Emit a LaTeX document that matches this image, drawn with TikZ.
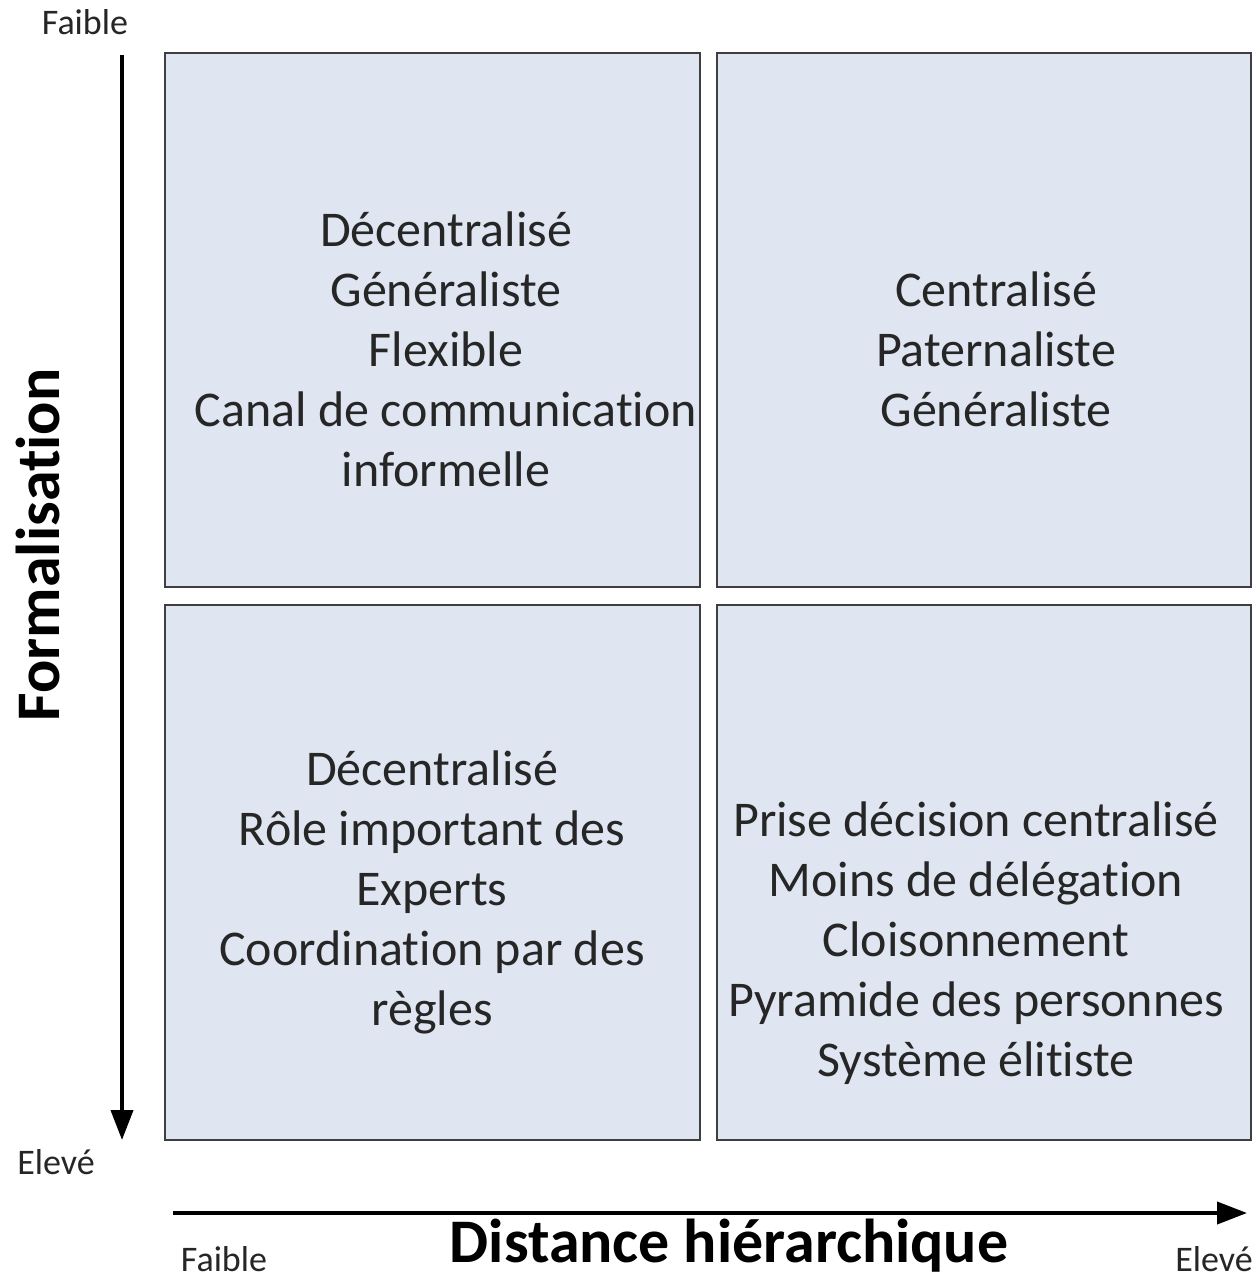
\documentclass[tikz,border=0pt]{standalone}
\usepackage{fontspec}
\setmainfont{Carlito}[Ligatures={NoCommon}]
\usetikzlibrary{arrows.meta}
\definecolor{boxfill}{HTML}{DFE6F1}
\definecolor{boxline}{HTML}{3F3F3F}
\tikzset{
  quad/.style={draw=boxline, line width=2pt, fill=boxfill},
  quadtext/.style={align=center, font=\fontsize{50}{60}\selectfont, text=black!85, inner sep=0pt},
  small/.style={font=\fontsize{36}{40}\selectfont, text=black!85, inner sep=0pt},
  axislabel/.style={font=\fontsize{62}{70}\selectfont\bfseries, inner sep=0pt},
  axis/.style={line width=4pt, -{Triangle[length=30pt,width=22pt]}}
}
\begin{document}
\begin{tikzpicture}[x=1pt,y=-1pt]
\useasboundingbox (0,0) rectangle (1258,1279);
\fill[white] (0,0) rectangle (1258,1279);
% quadrants
\draw[quad] (165,53) rectangle (700,587);
\draw[quad] (717,53) rectangle (1251,587);
\draw[quad] (165,605) rectangle (700,1140);
\draw[quad] (717,605) rectangle (1251,1140);
% texts
\node[quadtext] (tl) at (446,349) {Décentralisé\\Généraliste\\Flexible\\Canal de communication\\informelle};
\node[quadtext] (tr) at (996,349) {Centralisé\\Paternaliste\\Généraliste};
\node[quadtext] (bl) at (432,892) {Décentralisé\\Rôle important des\\Experts\\Coordination par des\\règles};
\node[quadtext] (br) at (976,943) {Prise décision centralisé\\Moins de délégation\\Cloisonnement\\Pyramide des personnes\\Système élitiste};
% axes
\coordinate (vtop) at (122,55);
\coordinate (vbot) at (122,1140);
\coordinate (hl) at (173,1213);
\coordinate (hr) at (1247,1213);
\draw[axis] (vtop) -- (vbot);
\draw[axis] (hl) -- (hr);
% labels
\node[small] (ftop) at (85,22) {Faible};
\node[small] (etop) at (56,1162) {Elevé};
\node[small] (fbot) at (224,1259) {Faible};
\node[small] (ebot) at (1214,1259) {Elevé};
\node[axislabel, rotate=90] (form) at (38,545) {Formalisation};
\node[axislabel] (dist) at (729,1246) {Distance hiérarchique};
\end{tikzpicture}
\end{document}
